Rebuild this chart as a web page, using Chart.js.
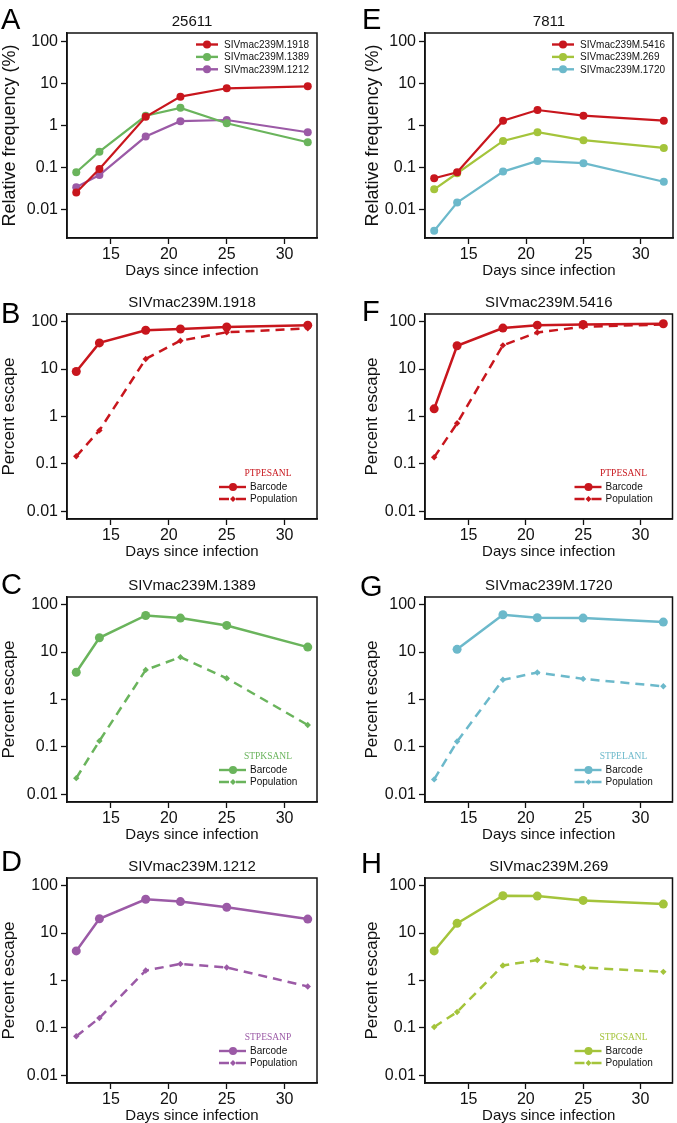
<!DOCTYPE html>
<html>
<head>
<meta charset="utf-8">
<script src="https://cdn.jsdelivr.net/npm/chart.js@4.4.1/dist/chart.umd.min.js"></script>
<style>
  body { margin: 0; background: #fff; }
  #page { position: relative; width: 677px; height: 1123px; overflow: hidden; font-family: 'Liberation Sans', Arial, sans-serif; }
  .panel { position: absolute; }
  .letter { position: absolute; font-size: 29px; line-height: 1; color: #000; }
</style>
</head>
<body>
<div id="page"></div>
<script>
const days = [12, 14, 18, 21, 25, 32];
const xTickValues = [15, 20, 25, 30];
const yTickValues = [0.01, 0.1, 1, 10, 100];
const yTickLabels = ['0.01', '0.1', '1', '10', '100'];

// relative frequency (%), animal 25611
const freq1918 = [0.026, 0.095, 1.66, 5.0, 7.9, 8.8];
const freq1389 = [0.079, 0.245, 1.75, 2.7, 1.16, 0.41];
const freq1212 = [0.035, 0.068, 0.56, 1.3, 1.39, 0.71];
// relative frequency (%), animal 7811
const freq5416 = [0.057, 0.079, 1.34, 2.4, 1.76, 1.34];
const freq269 = [0.031, 0.075, 0.44, 0.71, 0.46, 0.30];
const freq1720 = [0.0032, 0.015, 0.082, 0.147, 0.13, 0.047];

// percent escape: barcode vs population
const barcode1918 = [8.9, 35.6, 65.6, 70, 77, 84];
const population1918 = [0.145, 0.51, 16.3, 39.6, 59.6, 72];
const barcode5416 = [1.45, 31, 73, 84, 87, 90];
const population5416 = [0.138, 0.72, 31.6, 59, 78, 87];
const barcode1389 = [3.76, 20, 59, 52, 36.4, 12.7];
const population1389 = [0.022, 0.134, 4.2, 7.8, 2.8, 0.29];
const barcode1720 = [null, 11.4, 61, 52.8, 52, 42.8];
const population1720 = [0.0207, 0.13, 2.6, 3.7, 2.72, 1.9];
const barcode1212 = [4.2, 20, 51.6, 46, 35, 19.7];
const population1212 = [0.067, 0.162, 1.62, 2.24, 1.88, 0.75];
const barcode269 = [4.2, 16, 61, 60, 48.7, 40.7];
const population269 = [0.105, 0.217, 2.07, 2.7, 1.88, 1.52];

const RED = '#c8161d', GREEN = '#6ab45c', PURPLE = '#9b5aa6', LIME = '#a4c43b', TEAL = '#6cb9cb';
const INK = '#111';

const columns = [
  {left: 0, width: 330, padRight: 13, yWidth: 67},
  {left: 363, width: 314, padRight: 4, yWidth: 62}
];
const rowTops = [0, 281, 564, 845];
const panelHeight = 278;

const panels = [
  {letter: 'A', col: 0, row: 0, lx: 1, ly: 5, title: '25611', type: 'freq',
   series: [['SIVmac239M.1918', freq1918, RED], ['SIVmac239M.1389', freq1389, GREEN], ['SIVmac239M.1212', freq1212, PURPLE]]},
  {letter: 'E', col: 1, row: 0, lx: 362, ly: 5, title: '7811', type: 'freq',
   series: [['SIVmac239M.5416', freq5416, RED], ['SIVmac239M.269', freq269, LIME], ['SIVmac239M.1720', freq1720, TEAL]]},
  {letter: 'B', col: 0, row: 1, lx: 1, ly: 299, title: 'SIVmac239M.1918', type: 'escape', seq: 'PTPESANL', color: RED,
   barcode: barcode1918, population: population1918},
  {letter: 'F', col: 1, row: 1, lx: 362, ly: 297, title: 'SIVmac239M.5416', type: 'escape', seq: 'PTPESANL', color: RED,
   barcode: barcode5416, population: population5416},
  {letter: 'C', col: 0, row: 2, lx: 1, ly: 570, title: 'SIVmac239M.1389', type: 'escape', seq: 'STPKSANL', color: GREEN,
   barcode: barcode1389, population: population1389},
  {letter: 'G', col: 1, row: 2, lx: 360, ly: 572, title: 'SIVmac239M.1720', type: 'escape', seq: 'STPELANL', color: TEAL,
   barcode: barcode1720, population: population1720},
  {letter: 'D', col: 0, row: 3, lx: 1, ly: 847, title: 'SIVmac239M.1212', type: 'escape', seq: 'STPESANP', color: PURPLE,
   barcode: barcode1212, population: population1212},
  {letter: 'H', col: 1, row: 3, lx: 361, ly: 849, title: 'SIVmac239M.269', type: 'escape', seq: 'STPGSANL', color: LIME,
   barcode: barcode269, population: population269}
];

function toPoints(values) {
  return days.map((d, i) => ({x: d, y: values[i]}));
}

function drawMarker(ctx, style, x, y, r) {
  ctx.beginPath();
  if (style === 'rectRot') {
    ctx.moveTo(x, y - r); ctx.lineTo(x + r, y); ctx.lineTo(x, y + r); ctx.lineTo(x - r, y); ctx.closePath();
  } else {
    ctx.arc(x, y, r, 0, Math.PI * 2);
  }
  ctx.fill();
}

// box round the plot area, like R's box()
const plotBox = {
  id: 'plotBox',
  beforeDatasetsDraw(chart) {
    const {ctx, chartArea: a} = chart;
    ctx.save();
    ctx.strokeStyle = INK;
    ctx.lineWidth = 1.5;
    ctx.strokeRect(a.left, a.top, a.right - a.left, a.bottom - a.top);
    ctx.restore();
  }
};

// legend with line + marker samples, placed inside the plot area
const panelLegend = {
  id: 'panelLegend',
  afterDatasetsDraw(chart, args, opts) {
    if (!opts || !opts.mode) return;
    const {ctx, chartArea: a} = chart;
    const items = chart.data.datasets.map(ds => ({
      text: ds.label, color: ds.borderColor, dash: ds.borderDash || [], style: ds.pointStyle || 'circle'
    }));
    ctx.save();
    ctx.textBaseline = 'middle';
    ctx.textAlign = 'left';
    let textX, rowY;
    if (opts.mode === 'top') {
      textX = a.right - 93;
      rowY = items.map((it, i) => a.top + 11.5 + i * 12.4);
    } else {
      textX = a.right - 67;
      rowY = [a.bottom - 32, a.bottom - 20];
      ctx.fillStyle = opts.seqColor;
      ctx.font = "9.5px 'Liberation Serif', serif";
      ctx.textAlign = 'center';
      ctx.fillText(opts.seq, textX + 18, a.bottom - 46);
      ctx.textAlign = 'left';
    }
    items.forEach((it, i) => {
      const y = rowY[i];
      const x0 = opts.mode === 'top' ? textX - 28 : textX - 31;
      const x1 = opts.mode === 'top' ? textX - 6 : textX - 4;
      const mx = textX - 17;
      ctx.strokeStyle = it.color;
      ctx.fillStyle = it.color;
      ctx.lineWidth = 2.4;
      ctx.setLineDash(it.dash.length ? [10, 7] : []);
      ctx.beginPath(); ctx.moveTo(x0, y); ctx.lineTo(x1, y); ctx.stroke();
      ctx.setLineDash([]);
      drawMarker(ctx, it.style, mx, y, it.style === 'rectRot' ? 3 : 4);
      ctx.fillStyle = INK;
      ctx.font = "10px 'Liberation Sans', Arial, sans-serif";
      ctx.fillText(it.text, textX, y + 0.5);
    });
    ctx.restore();
  }
};

function makeDatasets(p) {
  if (p.type === 'freq') {
    return p.series.map(([label, values, color]) => ({
      label: label,
      data: toPoints(values),
      borderColor: color,
      backgroundColor: color,
      pointBackgroundColor: color,
      pointBorderColor: color,
      borderWidth: 2.2,
      pointRadius: 4,
      pointBorderWidth: 0,
      tension: 0
    }));
  }
  return [{
    label: 'Barcode',
    data: toPoints(p.barcode),
    borderColor: p.color,
    backgroundColor: p.color,
    pointBackgroundColor: p.color,
    pointBorderColor: p.color,
    borderWidth: 2.5,
    pointRadius: 4.5,
    pointBorderWidth: 0,
    pointStyle: 'circle',
    tension: 0
  }, {
    label: 'Population',
    data: toPoints(p.population),
    borderColor: p.color,
    backgroundColor: p.color,
    pointBackgroundColor: p.color,
    pointBorderColor: p.color,
    borderWidth: 2.5,
    borderDash: [9, 6],
    pointRadius: 3.2,
    pointBorderWidth: 0,
    pointStyle: 'rectRot',
    tension: 0
  }];
}

const page = document.getElementById('page');

panels.forEach(p => {
  const col = columns[p.col];
  const wrap = document.createElement('div');
  wrap.className = 'panel';
  wrap.style.left = col.left + 'px';
  wrap.style.top = rowTops[p.row] + 'px';
  wrap.style.width = col.width + 'px';
  wrap.style.height = panelHeight + 'px';
  const canvas = document.createElement('canvas');
  canvas.width = col.width;
  canvas.height = panelHeight;
  canvas.style.width = col.width + 'px';
  canvas.style.height = panelHeight + 'px';
  wrap.appendChild(canvas);
  page.appendChild(wrap);

  const letter = document.createElement('div');
  letter.className = 'letter';
  letter.textContent = p.letter;
  letter.style.left = p.lx + 'px';
  letter.style.top = p.ly + 'px';
  page.appendChild(letter);

  const isFreq = p.type === 'freq';
  new Chart(canvas, {
    type: 'line',
    data: {datasets: makeDatasets(p)},
    plugins: [plotBox, panelLegend],
    options: {
      responsive: false,
      animation: false,
      layout: {padding: {left: 0, right: col.padRight, top: 0, bottom: 0}},
      plugins: {
        legend: {display: false},
        tooltip: {enabled: false},
        title: {
          display: true,
          text: p.title,
          color: INK,
          fullSize: false,
          font: {family: "'Liberation Sans', Arial, sans-serif", size: 15, weight: 'normal', lineHeight: 1},
          padding: {top: 14, bottom: 4}
        },
        panelLegend: isFreq ? {mode: 'top'} : {mode: 'bottom', seq: p.seq, seqColor: p.color}
      },
      scales: {
        x: {
          type: 'linear',
          min: 11.2,
          max: 32.8,
          afterBuildTicks: (scale) => { scale.ticks = xTickValues.map(v => ({value: v})); },
          afterFit: (scale) => { scale.height = 40; },
          grid: {drawOnChartArea: false, drawTicks: true, tickLength: 6, tickWidth: 1.3, tickColor: INK},
          border: {display: true, color: INK, width: 1.5},
          ticks: {
            color: INK, padding: 3, maxRotation: 0, autoSkip: false,
            font: {family: "'Liberation Sans', Arial, sans-serif", size: 16, lineHeight: 1},
            callback: (v) => String(v)
          },
          title: {
            display: true, text: 'Days since infection', color: INK,
            font: {family: "'Liberation Sans', Arial, sans-serif", size: 15, lineHeight: 1},
            padding: {top: 0, bottom: 0}
          }
        },
        y: {
          type: 'logarithmic',
          min: isFreq ? Math.pow(10, -2.667) : Math.pow(10, -2.16),
          max: isFreq ? Math.pow(10, 2.214) : Math.pow(10, 2.16),
          afterBuildTicks: (scale) => { scale.ticks = yTickValues.map(v => ({value: v})); },
          afterFit: (scale) => { scale.width = col.yWidth; },
          grid: {drawOnChartArea: false, drawTicks: true, tickLength: 6, tickWidth: 1.3, tickColor: INK},
          border: {display: true, color: INK, width: 1.5},
          ticks: {
            color: INK, padding: 3, autoSkip: false,
            font: {family: "'Liberation Sans', Arial, sans-serif", size: 16, lineHeight: 1},
            callback: (v) => yTickLabels[yTickValues.indexOf(v)]
          },
          title: {
            display: true, text: isFreq ? 'Relative frequency (%)' : 'Percent escape', color: INK,
            font: {family: "'Liberation Sans', Arial, sans-serif", size: isFreq ? 18 : 17, lineHeight: 1},
            padding: {top: 1, bottom: 0}
          }
        }
      }
    }
  });
});
</script>
</body>
</html>
